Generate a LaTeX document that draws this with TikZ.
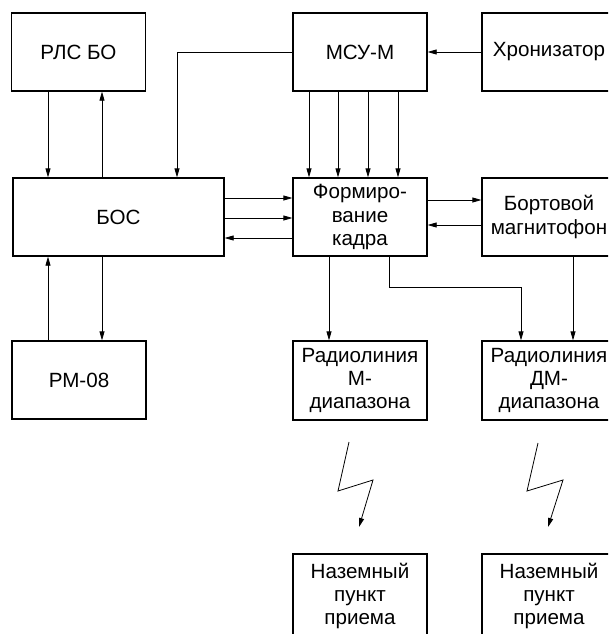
\documentclass[tikz,border=0pt]{standalone}
\usepackage{fontspec}
\setmainfont{Liberation Sans}
\usetikzlibrary{arrows.meta}
\begin{document}
\begin{tikzpicture}[x=1pt,y=-1pt,
  blk/.style={draw,line width=1.3pt,minimum width=134pt,minimum height=78pt,inner sep=0pt,align=center,
    font=\fontsize{20.6}{23.2}\selectfont},
  arr/.style={line width=0.8pt,-{Triangle[length=9pt,width=5pt]}},
  ln/.style={line width=0.8pt}]
\useasboundingbox (0,0) rectangle (608,634);
\clip (0,0) rectangle (608,634);
\node[blk] (rls) at (78.5,52) {РЛС БО};
\node[blk,minimum width=211pt] (bos) at (118.5,217) {БОС};
\node[blk] (pm) at (79,380) {РМ-08};
\node[blk] (msu) at (360,52) {МСУ-М};
\node[blk] (xron) at (549,52) {Хронизатор};
\node[blk] (form) at (360,217) {Формиро-\\вание\\кадра};
\node[blk] (bort) at (549,217) {Бортовой\\магнитофон};
\node[blk,minimum height=79pt] (radm) at (360,380.5) {Радиолиния\\М-\\диапазона};
\node[blk,minimum height=79pt] (raddm) at (549,380.5) {Радиолиния\\ДМ-\\диапазона};
\node[blk,minimum height=84pt] (nazm) at (360,596) {Наземный\\пункт\\приема};
\node[blk,minimum height=84pt] (nazdm) at (549,596) {Наземный\\пункт\\приема};
% RLS <-> BOS
\draw[arr] (rls.south -| 48,0) -- (bos.north -| 48,0);
\draw[arr] (bos.north -| 102,0) -- (rls.south -| 102,0);
% MSU -> BOS
\draw[arr] (msu.west) -| (bos.north -| 177,0);
% Xron -> MSU
\draw[arr] (xron.west) -- (msu.east);
% MSU -> Form
\foreach \xx in {309,338,368,398}
  \draw[arr] (msu.south -| \xx,0) -- (form.north -| \xx,0);
% BOS <-> Form
\draw[arr] (bos.east |- 0,198) -- (form.west |- 0,198);
\draw[arr] (bos.east |- 0,218) -- (form.west |- 0,218);
\draw[arr] (form.west |- 0,238) -- (bos.east |- 0,238);
% Form <-> Bort
\draw[arr] (form.east |- 0,200) -- (bort.west |- 0,200);
\draw[arr] (bort.west |- 0,225) -- (form.east |- 0,225);
% BOS <-> PM
\draw[arr] (pm.north -| 48,0) -- (bos.south -| 48,0);
\draw[arr] (bos.south -| 102,0) -- (pm.north -| 102,0);
% Form -> Radiolines
\draw[arr] (form.south -| 329,0) -- (radm.north -| 329,0);
\draw[arr] (form.south -| 389,0) |- (521,287) -- (raddm.north -| 521,0);
\draw[arr] (bort.south -| 573,0) -- (raddm.north -| 573,0);
% lightning
\draw[arr] (349,442) -- (338,491) -- (373,480) -- (359,527);
\draw[arr] (538,443) -- (527,491) -- (563,480) -- (548,527);
\end{tikzpicture}
\end{document}
